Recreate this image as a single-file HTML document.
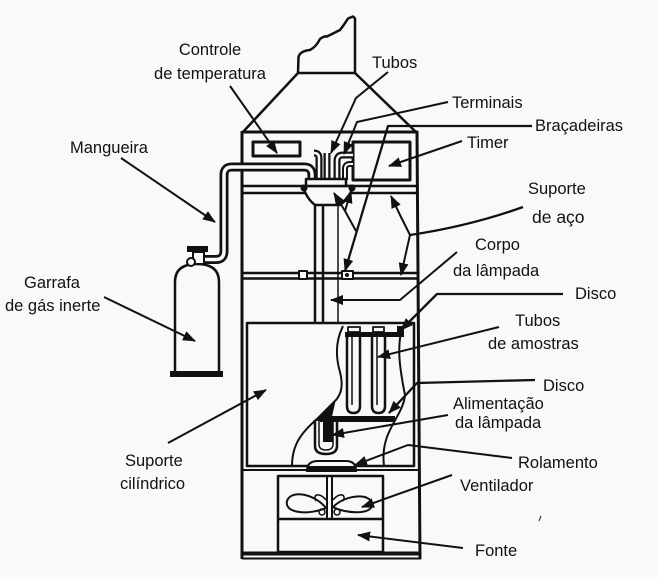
<!DOCTYPE html>
<html><head><meta charset="utf-8"><style>
html,body{margin:0;padding:0;background:#f9f9f8;}
svg{display:block;}
text{font-family:"Liberation Sans",Arial,sans-serif;font-size:16.5px;fill:#111;}
</style></head><body>
<svg width="657" height="579" viewBox="0 0 657 579" xmlns="http://www.w3.org/2000/svg">
<defs>
<marker id="ah" markerUnits="userSpaceOnUse" markerWidth="13" markerHeight="10" viewBox="0 0 13 10" refX="12" refY="5" orient="auto"><path d="M0 0 L13 5 L0 10 Z" fill="#111"/></marker>
</defs>
<rect width="657" height="579" fill="#f9f9f8"/>

<g stroke="#111" fill="none" stroke-width="2.5" stroke-linejoin="round">
<!-- chimney/smoke -->
<path d="M298 73 L298.5 57 Q300 51 310 50 Q316 47 320 39 Q324 36 327 36.5 Q334 33 340 30 Q344 25 348 18.5 L353 16.5 L355 18.5 V73"/>
<!-- hood -->
<path d="M242 133 L298 73 H355 L417 133"/>
<!-- cabinet -->
<path d="M242 132 H418" stroke-width="3"/>
<path d="M242 131 V559" stroke-width="3"/>
<path d="M417 131 L420 559" stroke-width="3"/>
<path d="M242 553.5 H420" stroke-width="4"/>
<path d="M242 558.5 H421" stroke-width="2"/>
<!-- shelf 1 -->
<path d="M242 186 H418"/>
<path d="M242 193 H418"/>
<!-- shelf 2 -->
<path d="M242 273 H418"/>
<path d="M242 278.5 H418"/>
<rect x="299" y="271" width="8" height="8" fill="#f9f9f8" stroke-width="2"/>
<rect x="342" y="271" width="11" height="8" fill="#f9f9f8" stroke-width="2"/>
<circle cx="347" cy="275" r="2" fill="#111" stroke="none"/>
<!-- inner support rect -->
<rect x="247" y="323" width="167" height="143"/>
<path d="M242 470 H420" stroke-width="2"/>

<!-- control box & timer -->
<rect x="253" y="142" width="47" height="14" stroke-width="3"/>
<rect x="353" y="142" width="57" height="38" stroke-width="3"/>
</g>

<!-- hose -->
<path d="M204 259.5 H216 Q224 259.5 224 251 V175 Q224 167 232 167 H304 Q312 167 312 175 V181" fill="none" stroke="#111" stroke-width="9"/>
<path d="M204 259.5 H216 Q224 259.5 224 251 V175 Q224 167 232 167 H304 Q312 167 312 175 V181" fill="none" stroke="#f9f9f8" stroke-width="3.5"/>

<!-- small tubes above plate -->
<g fill="none" stroke-linecap="butt">
<path d="M319 180 V158 Q319 153 314 153" stroke="#111" stroke-width="7"/>
<path d="M319 180 V158 Q319 153 314 153" stroke="#f9f9f8" stroke-width="2.5"/>
<path d="M327 180 V153" stroke="#111" stroke-width="7"/>
<path d="M327 180 V153" stroke="#f9f9f8" stroke-width="2.5"/>
<path d="M337 180 V161 Q337 155 343 155 H353" stroke="#111" stroke-width="7"/>
<path d="M337 180 V161 Q337 155 343 155 H353" stroke="#f9f9f8" stroke-width="2.5"/>
<path d="M345 180 V169 Q345 164 350 164 H353" stroke="#111" stroke-width="6"/>
<path d="M345 180 V169 Q345 164 350 164 H353" stroke="#f9f9f8" stroke-width="2"/>
</g>

<g stroke="#111" fill="none" stroke-width="2.5" stroke-linejoin="round">
<!-- funnel -->
<path d="M303 186 H353 Q350 198 340 205 H315 Q306 198 303 186 Z" fill="#f9f9f8"/>
<!-- plate -->
<rect x="306" y="179" width="40" height="7" fill="#f9f9f8"/>
<!-- lamp column -->
<path d="M315 205 V323"/>
<path d="M323 205 V323"/>
<path d="M338 205 V323" stroke-width="1.5"/>

<!-- bottle -->
<path d="M175 372 V282 Q175 264 197 264 Q219 264 219 282 V372"/>
<rect x="193" y="252" width="11" height="12" fill="#f9f9f8" stroke-width="2"/>
<circle cx="191" cy="262" r="4" fill="#f9f9f8" stroke-width="2"/>
</g>
<rect x="170" y="371" width="53" height="6" fill="#111"/>
<rect x="187" y="246" width="21" height="6" fill="#111"/>
<circle cx="304" cy="188" r="3.5" fill="#111"/>
<circle cx="352" cy="188" r="3.5" fill="#111"/>

<!-- cutaway interior -->
<g stroke="#111" fill="none" stroke-width="2" stroke-linejoin="round">
<path d="M343 326 C336 340 335 355 340 372 C344 388 340 395 336 400 L318 418 C302 432 292 444 292 466"/>
<path d="M403 326 C396 345 400 370 405 395 C404 410 390 425 386 440 C383 450 383 458 384 466"/>
<!-- sample tubes -->
<path d="M347 336 V406 Q347 413 353.5 413 Q360 413 360 406 V336" stroke-width="2.5"/>
<path d="M352 337 V405" stroke-width="1.5"/>
<path d="M372 336 V406 Q372 413 378.5 413 Q385 413 385 406 V336" stroke-width="2.5"/>
<path d="M377 337 V405" stroke-width="1.5"/>
<rect x="348" y="327" width="12" height="5" stroke-width="1.8"/>
<rect x="373" y="327" width="11" height="5" stroke-width="1.8"/>
<!-- UV lamp -->
<path d="M315 420 V446 Q315 454 326 454 Q337 454 337 446 V420" stroke-width="2.5"/>
<path d="M319 421 V444 Q319 450 326 450 Q333 450 333 444 V421" stroke-width="1.5"/>
</g>
<rect x="345" y="332" width="58" height="5" fill="#111"/>
<rect x="397" y="326" width="7" height="11" fill="#111"/>
<rect x="320" y="416" width="75" height="6" fill="#111"/>
<path d="M336 399 L316 421 L331 421 Z" fill="#111"/>
<rect x="323" y="420" width="10" height="22" fill="#111"/>

<!-- rolamento -->
<path d="M307 471 Q307 461 318 461 H346 Q356 461 356 471 Z" fill="#f9f9f8" stroke="#111" stroke-width="2"/>
<rect x="307" y="466" width="49" height="6" fill="#111"/>

<!-- fan/source box -->
<g stroke="#111" fill="none" stroke-width="2.5" stroke-linejoin="round">
<rect x="278" y="476" width="105" height="76"/>
<path d="M278 519 H383"/>
<path d="M327 477 V518" stroke-width="2"/>
<path d="M332 477 V518" stroke-width="2"/>
<path d="M326 508 C315 494 291 489 287 501 C284 514 310 515 326 508" stroke-width="2"/>
<path d="M333 507 C346 494 371 493 372 504 C373 515 346 514 333 507" stroke-width="2"/>
<path d="M326 500 C320 492 312 494 316 501" stroke-width="1.5"/>
<path d="M333 500 C339 492 347 494 343 501" stroke-width="1.5"/>
<circle cx="322" cy="512" r="3" stroke-width="1.5"/>
<circle cx="337" cy="512" r="3" stroke-width="1.5"/>
</g>

<!-- connectors -->
<g stroke="#111" fill="none" stroke-width="2" stroke-linejoin="round">
<path d="M230 86 L277 153" marker-end="url(#ah)"/>
<path d="M388 72 L356 98 L331 153" marker-end="url(#ah)"/>
<path d="M448 102 L357 122 L344 154" marker-end="url(#ah)"/>
<path d="M532 126 L388 126 L345 271" marker-end="url(#ah)" stroke-width="2.3"/>
<path d="M356 231 L345 211 L334 193" marker-end="url(#ah)"/>
<path d="M345 211 L351 191" marker-end="url(#ah)"/>
<path d="M462 141 L389 166" marker-end="url(#ah)"/>
<path d="M121 158 L215 222" marker-end="url(#ah)"/>
<path d="M523 207 Q470 226 410 235" stroke-width="2.3"/>
<path d="M410 235 L400 215 L391 196" marker-end="url(#ah)"/>
<path d="M410 235 L401 275" marker-end="url(#ah)"/>
<path d="M457 252 L400 300 L331 300" marker-end="url(#ah)"/>
<path d="M563 294 L437 294 L401 330" marker-end="url(#ah)" stroke-width="2.3"/>
<path d="M499 327 L378 357" marker-end="url(#ah)"/>
<path d="M535 380 L417 383 L389 413" marker-end="url(#ah)" stroke-width="2.3"/>
<path d="M448 415 L332 435" marker-end="url(#ah)"/>
<path d="M512 458 L408 445 L355 465" marker-end="url(#ah)"/>
<path d="M452 475 L362 507" marker-end="url(#ah)"/>
<path d="M463 548 L358 535" marker-end="url(#ah)"/>
<path d="M104 297 L195 341" marker-end="url(#ah)"/>
<path d="M168 443 L266 390" marker-end="url(#ah)"/>
<path d="M541 516 L539 521" stroke-width="1"/>
</g>

<!-- labels -->
<text x="210" y="55" text-anchor="middle">Controle</text>
<text x="210" y="79" text-anchor="middle">de temperatura</text>
<text x="372" y="68">Tubos</text>
<text x="452" y="108">Terminais</text>
<text x="535" y="131">Braçadeiras</text>
<text x="467" y="148">Timer</text>
<text x="70" y="153">Mangueira</text>
<text x="528" y="194">Suporte</text>
<text x="532" y="223" style="font-size:17.5px">de aço</text>
<text x="475" y="250">Corpo</text>
<text x="453" y="276">da lâmpada</text>
<text x="575" y="299">Disco</text>
<text x="52" y="288" text-anchor="middle">Garrafa</text>
<text x="5" y="311">de gás inerte</text>
<text x="515" y="326">Tubos</text>
<text x="488" y="349">de amostras</text>
<text x="543" y="391">Disco</text>
<text x="453" y="409">Alimentação</text>
<text x="455" y="428">da lâmpada</text>
<text x="518" y="468">Rolamento</text>
<text x="460" y="491">Ventilador</text>
<text x="475" y="556">Fonte</text>
<text x="125" y="466">Suporte</text>
<text x="120" y="489">cilíndrico</text>
</svg>
</body></html>
